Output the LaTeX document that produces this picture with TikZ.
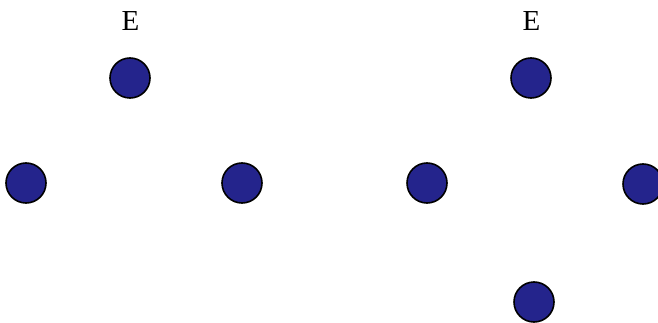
\documentclass[tikz,border=0pt]{standalone}
\usepackage{fontspec}
\setmainfont{Liberation Serif}
\definecolor{dotblue}{RGB}{36,36,140}
\begin{document}
\begin{tikzpicture}[x=1pt,y=-1pt,
  dot/.style={circle,draw=black,line width=1.6pt,fill=dotblue,minimum size=40pt,inner sep=0pt},
  lab/.style={font=\fontsize{29}{29}\selectfont,inner sep=0pt}]
\useasboundingbox (0,0) rectangle (658,323);
\node[dot] (a1) at (130,78) {};
\node[dot] (a2) at (26,183) {};
\node[dot] (a3) at (242,183) {};
\node[lab] (e1) at (130.5,21.5) {E};
\node[dot] (b1) at (531,78) {};
\node[dot] (b2) at (427,183) {};
\node[dot] (b3) at (643,184) {};
\node[dot] (b4) at (534,302) {};
\node[lab] (e2) at (531.5,21.5) {E};
\end{tikzpicture}
\end{document}
